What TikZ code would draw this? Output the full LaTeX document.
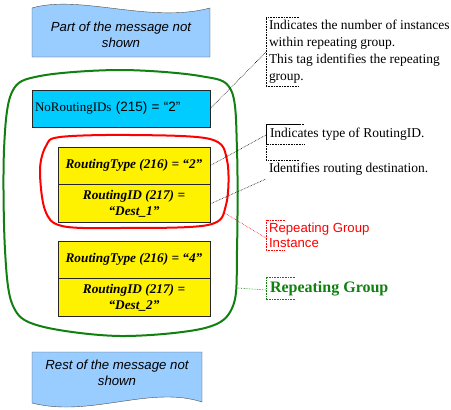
\documentclass[tikz,border=0pt]{standalone}
\usepackage{fontspec}
\setmainfont{Liberation Serif}
\setsansfont{Liberation Sans}
\usepackage{tikz}
\usetikzlibrary{positioning}
\definecolor{msgblue}{HTML}{99CCFF}
\definecolor{cntcyan}{HTML}{00CCFF}
\definecolor{grpgreen}{HTML}{108010}
\tikzset{field node/.style={rectangle,fill=yellow,draw=black!85,thick,minimum width=152pt,inner sep=2pt,align=center,font=\fontsize{13.3}{16}\selectfont\bfseries\itshape},
note node/.style={anchor=north west,inner sep=3pt,outer sep=0pt,align=left,font=\fontsize{13.5}{17}\selectfont},
note line/.style={densely dotted,semithick},
}

\begin{document}
\begin{tikzpicture}[x=1pt,y=-1pt]
	\useasboundingbox (0,0) rectangle (451,410);
	% part of the message
	\draw[fill=msgblue,draw=black!70] (32,8) .. controls (80,-6) and (150,24) .. (210,8) -- (210,57) -- (32,57) -- cycle;
	\node[align=center,font=\fontsize{13.2}{15.5}\selectfont\sffamily\itshape] (top) at (121,35) {Part of the message not\\shown};
	
	% repeating group
	\draw[grpgreen,line width=2pt] plot[smooth cycle,tension=0.55] coordinates {(40,76) (120,70) (200,76) (231,90) (237,150) (237,250) (233,306) (205,328) (120,336) (40,326) (13,306) (5,250) (4,150) (12,92)};
	\node[rectangle,fill=cntcyan,draw=black!85,thick,minimum width=178pt,minimum height=37pt,text width=172pt,inner sep=3pt,align=left,font=\fontsize{13}{16}\selectfont] (nri) at (121,108.5) {NoRoutingIDs {\sffamily\fontsize{13.5}{16}\selectfont (215) = “2”}};
	
	% instance 1
	\draw[red,line width=2pt] plot[smooth cycle,tension=0.55] coordinates {(60,137) (130,135) (210,139) (227,160) (226,205) (208,225) (120,228) (62,226) (45,210) (40,170) (46,146)};
	\node[field node,minimum height=37pt] (rt1) at (134,165.5) {RoutingType (216) = “2”};
	\node[field node,minimum height=38pt] (rid1) [below = 0pt of rt1] {RoutingID (217) =\\“Dest\_1”};
	
	% instance 2
	\node[field node,minimum height=37pt] (rt2) at (134,259.5) {RoutingType (216) = “4”};
	\node[field node,minimum height=38pt] (rid2) [below = 0pt of rt2] {RoutingID (217) =\\“Dest\_2”};
	
	% rest of the message
	\draw[fill=msgblue,draw=black!70] (32,352) -- (202,352) -- (202,402) .. controls (150,385) and (90,418) .. (32,403) -- cycle;
	\node[align=center,font=\fontsize{13.2}{15.5}\selectfont\sffamily\itshape] (rest) at (117,373) {Rest of the message not\\shown};
	
	% notes
	\node[note node] (c1) at (266,17) {Indicates the number of instances\\within repeating group.\\This tag identifies the repeating\\group.};
	\node[note node,inner sep=4pt] (c2) at (266,124) {Indicates type of RoutingID.};
	\node[note node] (c3) at (266,160) {Identifies routing destination.};
	\node[note node,red,font=\fontsize{13.2}{15}\selectfont\sffamily] (c4) at (266,220) {Repeating Group\\Instance};
	\node[note node,grpgreen,inner sep=4pt,font=\fontsize{16}{18}\selectfont\bfseries] (c5) at (266,277) {Repeating Group};
	
	\draw[note line] ([xshift=33pt]c1.north west) -- (c1.north west) -- (c1.south west) -- ++(33pt,0);
	\draw[note line] ([xshift=38pt]c2.north west) -- (c2.north west) -- (c2.south west) -- ++(38pt,0);
	\draw[note line] ([xshift=33pt]c3.north west) -- (c3.north west) -- ++(0,36pt) -- ++(33pt,0);
	\draw[note line,red] ([xshift=19pt]c4.north west) -- (c4.north west) -- (c4.south west) -- ++(19pt,0);
	\draw[note line,grpgreen] ([xshift=29pt]c5.north west) -- (c5.north west) -- (c5.south west) -- ++(29pt,0);
	
	\coordinate (inst) at (223,212);
	\coordinate (grp) at (238,288);
	\path[draw,note line]
	(nri.east) -- ([yshift=-35pt]c1.north west)
	(rt1.east) -- ([yshift=-11pt]c2.north west)
	(rid1.east) -- ([yshift=-19pt]c3.north west)
	;
	\draw[note line,red] (inst) -- ([yshift=-18pt]c4.north west);
	\draw[note line,grpgreen] (grp) -- ([yshift=-13pt]c5.north west);
	\end{tikzpicture}
\end{document}
